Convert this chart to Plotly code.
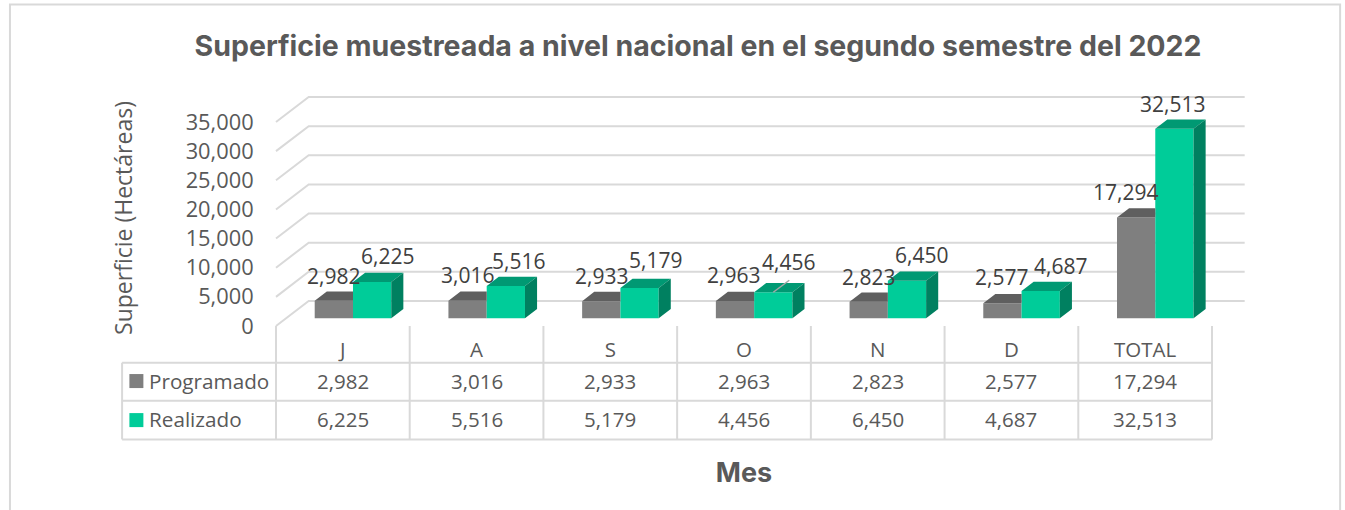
import plotly.graph_objects as go

# ---- data ----
categories = ["J", "A", "S", "O", "N", "D", "TOTAL"]
programado = [2982, 3016, 2933, 2963, 2823, 2577, 17294]
realizado = [6225, 5516, 5179, 4456, 6450, 4687, 32513]
y_ticks = [0, 5000, 10000, 15000, 20000, 25000, 30000, 35000]
series_names = ["Programado", "Realizado"]

# ---- label nudges (px), separate from data ----
prog_label_dx = [-0.5, -0.3, 0, -1, -0.7, -0.5, -11]
prog_label_dy = [25, 25.7, 25, 26, 25, 26, 25]
real_label_dx = [15, 13, 15.5, 15, 15, 20, -1.5]
real_label_dy = [26, 25, 28, 30, 26, 25, 25]

# ---- geometry ----
W, H = 1345, 510
P_L, P_R, P_T, P_B = 275.7, 1212.3, 97.3, 339
CAT_PX = (P_R - P_L) / len(categories)
V_PX = 29.1 / 5000
DEPTH_X = 32.7 / CAT_PX          # wall depth in category units
DEPTH_Y = 25 / V_PX              # wall depth in value units
FRONT, BACK = 0.31, 0.68         # bar depth span
BAR_W = 38.3 / CAT_PX
GRID = "#D9D9D9"
TXT = "#595959"
LBL = "#404040"
FONT = "Open Sans"

x_min, x_max = -0.5, len(categories) - 0.5
y_max = (326 - P_T) / V_PX
y_min = -(P_B - 326) / V_PX


def px(p):
    return (p - P_L) / (P_R - P_L)


def py(p):
    return (P_B - p) / (P_B - P_T)


def xpaper(x):
    return (x - x_min) / (x_max - x_min)


def ypaper(v):
    return (v - y_min) / (y_max - y_min)


idx = list(range(len(categories)))
front_dx = FRONT * DEPTH_X
base_v = FRONT * DEPTH_Y
bar_dx = (BACK - FRONT) * DEPTH_X
bar_dy = (BACK - FRONT) * DEPTH_Y


def faces(vals, left_shift, kind):
    xs, ys = [], []
    for i, v in zip(idx, vals):
        xl = i + front_dx + left_shift
        xr = xl + BAR_W
        t = base_v + v
        if kind == "top_clip":
            pts = [(xl, t), (xl + bar_dx, t + bar_dy), (xr, t + bar_dy), (xr, t), (xl, t)]
        elif kind == "top":
            pts = [(xl, t), (xl + bar_dx, t + bar_dy), (xr + bar_dx, t + bar_dy), (xr, t), (xl, t)]
        else:
            pts = [(xr, base_v), (xr + bar_dx, base_v + bar_dy), (xr + bar_dx, t + bar_dy), (xr, t), (xr, base_v)]
        xs += [p[0] for p in pts] + [None]
        ys += [p[1] for p in pts] + [None]
    return xs, ys


fig = go.Figure()
bar_x = [i + front_dx for i in idx]
fig.add_trace(go.Bar(x=bar_x, y=programado, base=[base_v] * len(idx), name=series_names[0],
                     marker=dict(color="#7F7F7F", line=dict(width=0)), showlegend=False))
fig.add_trace(go.Bar(x=bar_x, y=realizado, base=[base_v] * len(idx), name=series_names[1],
                     marker=dict(color="#00CC99", line=dict(width=0)), showlegend=False))

for (vals, shift, kind, col) in [
    (programado, -BAR_W, "top_clip", "#5F5F5F"),
    (realizado, 0, "top", "#009973"),
    (realizado, 0, "side", "#008060"),
]:
    xs, ys = faces(vals, shift, kind)
    fig.add_trace(go.Scatter(x=xs, y=ys, mode="lines", fill="toself", fillcolor=col,
                             line=dict(width=0, color=col), hoverinfo="skip", showlegend=False))

shapes = []
# oblique gridlines on the floor and back wall (paper refs so they can run past the plot box)
for v in y_ticks:
    a = (xpaper(x_min), ypaper(v))
    b = (xpaper(x_min + DEPTH_X), ypaper(v + DEPTH_Y))
    c = (xpaper(x_max + DEPTH_X), ypaper(v + DEPTH_Y))
    shapes.append(dict(type="path", layer="below", xref="paper", yref="paper",
                       path=f"M {a[0]} {a[1]} L {b[0]} {b[1]} L {c[0]} {c[1]}",
                       line=dict(color=GRID, width=2)))
# data table rules
rows_y = [362.7, 400.7, 439.3]
for r in rows_y:
    shapes.append(dict(type="line", xref="paper", yref="paper", x0=px(121.7), x1=1,
                       y0=py(r), y1=py(r), line=dict(color=GRID, width=2)))
shapes.append(dict(type="line", xref="paper", yref="paper", x0=px(121.7), x1=px(121.7),
                   y0=py(rows_y[0]), y1=py(rows_y[-1]), line=dict(color=GRID, width=2)))
for i in range(len(idx) + 1):
    shapes.append(dict(type="line", xref="paper", yref="paper", x0=xpaper(i - 0.5), x1=xpaper(i - 0.5),
                       y0=py(326), y1=py(rows_y[-1]), line=dict(color=GRID, width=2)))
# legend keys
shapes.append(dict(type="rect", xref="paper", yref="paper", x0=px(129), x1=px(143), y0=py(374), y1=py(388),
                   fillcolor="#7F7F7F", line=dict(width=0)))
shapes.append(dict(type="rect", xref="paper", yref="paper", x0=px(129), x1=px(143), y0=py(413), y1=py(427),
                   fillcolor="#00CC99", line=dict(width=0)))
# chart frame
shapes.append(dict(type="rect", xref="paper", yref="paper", x0=px(9.5), x1=px(1340.5), y0=py(530), y1=py(5),
                   line=dict(color=GRID, width=2), layer="below"))
# leader line for the moved 4,456 label
o = categories.index("O")
shapes.append(dict(type="line", xref="x", yref="y", xsizemode="pixel", ysizemode="pixel",
                   xanchor=o + front_dx + BAR_W / 2, yanchor=base_v + realizado[o],
                   x0=0, y0=0, x1=16, y1=12, line=dict(color="#A6A6A6", width=1.5)))

ann = []
for i in idx:
    ann.append(dict(x=i + front_dx - BAR_W / 2, y=base_v + programado[i], xref="x", yref="y",
                    text=f"{programado[i]:,}", showarrow=False, xanchor="center", yanchor="middle",
                    xshift=prog_label_dx[i], yshift=prog_label_dy[i], font=dict(size=21, color=LBL, family=FONT)))
    ann.append(dict(x=i + front_dx + BAR_W / 2, y=base_v + realizado[i], xref="x", yref="y",
                    text=f"{realizado[i]:,}", showarrow=False, xanchor="center", yanchor="middle",
                    xshift=real_label_dx[i], yshift=real_label_dy[i], font=dict(size=21, color=LBL, family=FONT)))
    for vals, row in ((programado, 380.7), (realizado, 419)):
        ann.append(dict(x=i, y=py(row), xref="x", yref="paper", text=f"{vals[i]:,}", showarrow=False,
                        xanchor="center", yanchor="middle", font=dict(size=20.5, color=TXT, family=FONT)))
for name, row in zip(series_names, (380.7, 419)):
    ann.append(dict(x=px(146.5), y=py(row), xref="paper", yref="paper", text=name, showarrow=False,
                    xanchor="left", yanchor="middle", font=dict(size=20.7, color=TXT, family=FONT)))

fig.update_layout(
    width=W, height=H,
    margin=dict(l=P_L, r=W - P_R, t=P_T, b=H - P_B, autoexpand=False),
    paper_bgcolor="white", plot_bgcolor="white",
    barmode="group", bargap=1 - 2 * BAR_W, bargroupgap=0,
    title=dict(text="<b>Superficie muestreada a nivel nacional en el segundo semestre del 2022</b>",
               x=698 / W, xref="container", xanchor="center", y=1 - 46 / H, yref="container", yanchor="middle",
               font=dict(family="Inter", size=28.5, color=TXT)),
    xaxis=dict(range=[x_min, x_max], tickmode="array", tickvals=idx, ticktext=categories,
               showgrid=False, zeroline=False, showline=False, ticks="", ticklabelstandoff=-4,
               tickfont=dict(size=20.5, color=TXT, family=FONT),
               title=dict(text="<b>Mes</b>", standoff=101, font=dict(family="Inter", size=27, color=TXT))),
    yaxis=dict(range=[y_min, y_max], tickmode="array", tickvals=y_ticks, tickformat=",",
               showgrid=False, zeroline=False, showline=False, ticks="outside", ticklen=17,
               tickcolor="rgba(0,0,0,0)", tickfont=dict(size=21.8, color=TXT, family=FONT),
               title=dict(text="Superficie (Hectáreas)", standoff=46, font=dict(size=23, color=TXT, family=FONT))),
    shapes=shapes, annotations=ann,
    hovermode=False,
)

fig.write_html("out.html", config={"displayModeBar": False},
               post_script="document.body.style.margin='0';document.documentElement.style.overflow='hidden';")
